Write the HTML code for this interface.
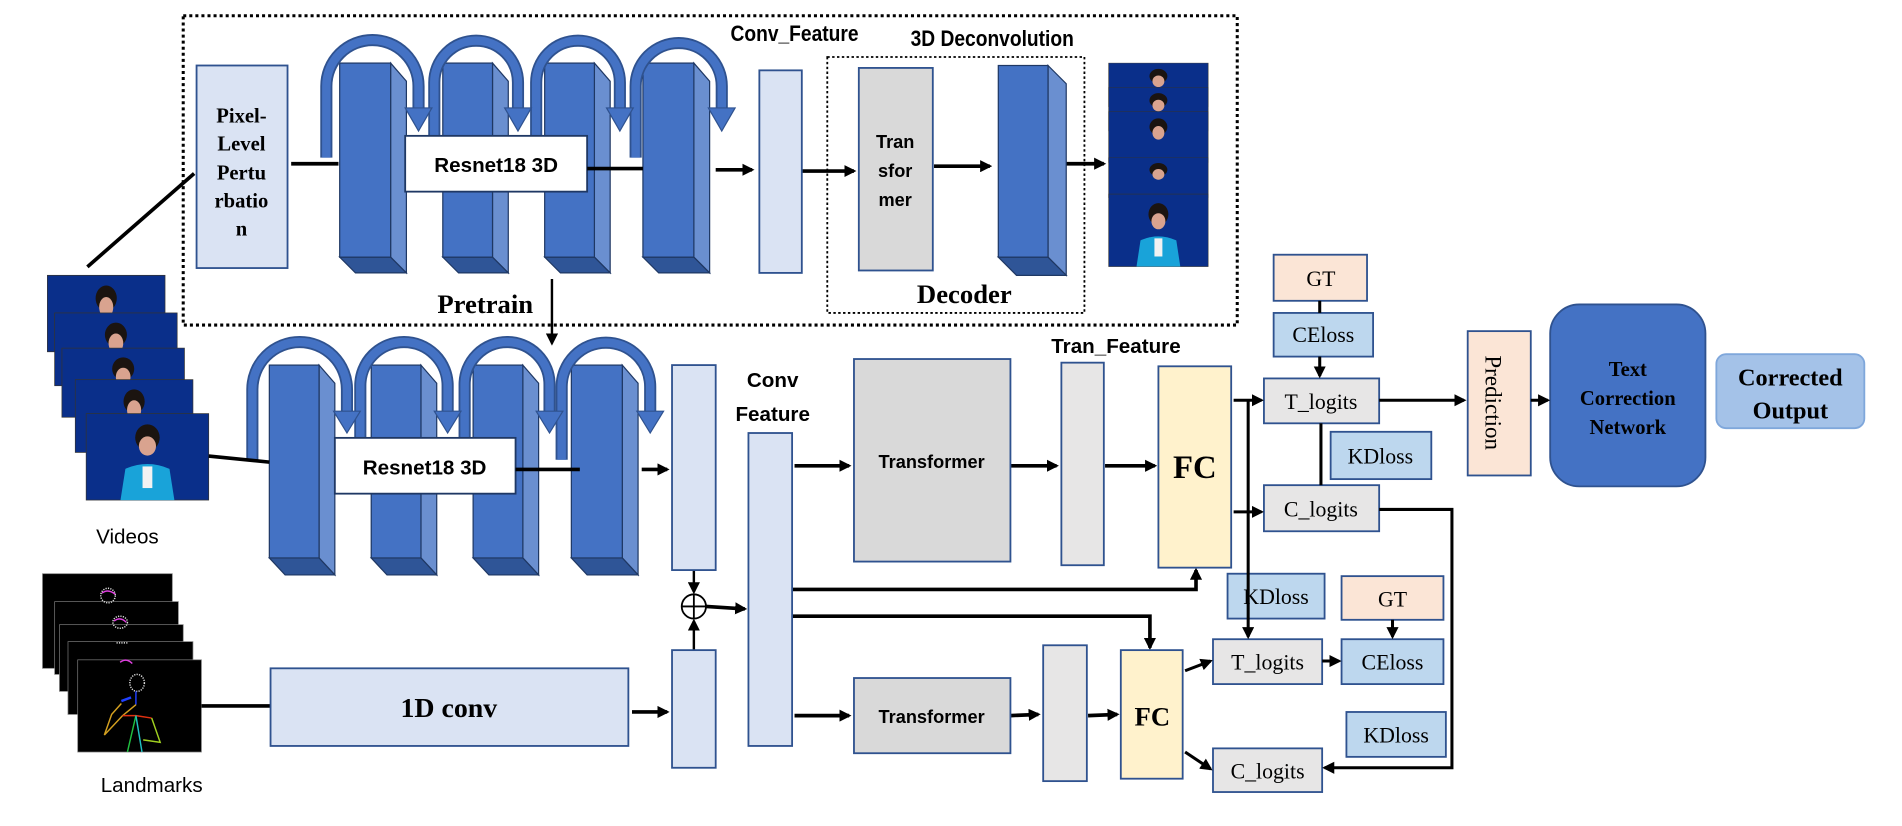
<!DOCTYPE html>
<html><head><meta charset="utf-8"><style>
html,body{margin:0;padding:0;background:#fff;}
svg{display:block;}
.sn{font-family:"Liberation Sans",sans-serif;}
.sf{font-family:"Liberation Serif",serif;}
</style></head><body>
<svg width="1902" height="826" viewBox="0 0 1568 681" xmlns="http://www.w3.org/2000/svg">
<defs>
<marker id="ah" markerWidth="10" markerHeight="10" refX="8" refY="5" orient="auto" markerUnits="userSpaceOnUse">
<path d="M0,0 L10,5 L0,10 Z" fill="#000"/></marker>
<g id="frame">
<rect x="0" y="0" width="100" height="72" fill="#0a2f8a" stroke="#333" stroke-width="0.6"/>
<ellipse cx="50" cy="20" rx="10" ry="11" fill="#1b1410"/>
<ellipse cx="50" cy="27" rx="7" ry="8" fill="#d9a38f"/>
<path d="M28 72 L32 46 Q50 38 68 46 L72 72 Z" fill="#19a3d9"/>
<rect x="46" y="44" width="8" height="18" fill="#f2f2f2"/>
</g>
<g id="frameS">
<rect x="0" y="0" width="100" height="60" fill="#0a2f8a" stroke="#333" stroke-width="0.6"/>
<ellipse cx="50" cy="18" rx="9" ry="10" fill="#1b1410"/>
<ellipse cx="50" cy="25" rx="6" ry="8" fill="#d9a38f"/>
</g>
</defs>

<rect x="151" y="13" width="869" height="255" fill="none" stroke="#000" stroke-width="2.5" stroke-dasharray="2.5,2.5"/>
<rect x="682" y="47" width="212" height="211" fill="none" stroke="#000" stroke-width="1.5" stroke-dasharray="2,2"/>

<rect x="162" y="54" width="75" height="167" fill="#dae3f3" stroke="#2f528f" stroke-width="1.5"/>
<g class="sf" font-weight="bold" font-size="17" text-anchor="middle">
<text x="199" y="101">Pixel-</text><text x="199" y="124">Level</text><text x="199" y="148">Pertu</text><text x="199" y="171">rbatio</text><text x="199" y="194">n</text>
</g>

<g stroke="#1f3864" stroke-width="1">
<g>
<polygon points="322,52 335,67 335,225 322,212" fill="#6a8fd0"/>
<polygon points="280,212 322,212 335,225 293,225" fill="#2f5597"/>
<rect x="280" y="52" width="42" height="160" fill="#4472c4"/>
</g>
<g>
<polygon points="406,52 419,67 419,225 406,212" fill="#6a8fd0"/>
<polygon points="365,212 406,212 419,225 378,225" fill="#2f5597"/>
<rect x="365" y="52" width="41" height="160" fill="#4472c4"/>
</g>
<g>
<polygon points="490,52 503,67 503,225 490,212" fill="#6a8fd0"/>
<polygon points="449,212 490,212 503,225 462,225" fill="#2f5597"/>
<rect x="449" y="52" width="41" height="160" fill="#4472c4"/>
</g>
<g>
<polygon points="572,52 585,67 585,225 572,212" fill="#6a8fd0"/>
<polygon points="530,212 572,212 585,225 543,225" fill="#2f5597"/>
<rect x="530" y="52" width="42" height="160" fill="#4472c4"/>
</g>
</g>
<g fill="none">
<path d="M269 130 L269 71 A38 38 0 0 1 345 71 L345 92" stroke="#2f528f" stroke-width="10"/>
<path d="M269 130 L269 71 A38 38 0 0 1 345 71 L345 92" stroke="#4472c4" stroke-width="7"/>
<path d="M358 130 L358 68 A34 34 0 0 1 427 68 L427 92" stroke="#2f528f" stroke-width="10"/>
<path d="M358 130 L358 68 A34 34 0 0 1 427 68 L427 92" stroke="#4472c4" stroke-width="7"/>
<path d="M442 130 L442 68 A34 34 0 0 1 511 68 L511 92" stroke="#2f528f" stroke-width="10"/>
<path d="M442 130 L442 68 A34 34 0 0 1 511 68 L511 92" stroke="#4472c4" stroke-width="7"/>
<path d="M524 130 L524 71 A35 35 0 0 1 595 71 L595 92" stroke="#2f528f" stroke-width="10"/>
<path d="M524 130 L524 71 A35 35 0 0 1 595 71 L595 92" stroke="#4472c4" stroke-width="7"/>
</g>
<g fill="#4472c4" stroke="#2f528f" stroke-width="1">
<polygon points="334,89 356,89 345,108"/><polygon points="416,89 438,89 427,108"/>
<polygon points="500,89 522,89 511,108"/><polygon points="584,89 606,89 595,108"/>
</g>
<rect x="334" y="112" width="150" height="46" fill="#fff" stroke="#1f3864" stroke-width="1.5"/>
<text x="409" y="142" class="sn" font-weight="bold" font-size="17" text-anchor="middle">Resnet18 3D</text>

<g stroke="#000" stroke-width="3">
<line x1="240" y1="135" x2="279" y2="135"/>
<line x1="484" y1="139" x2="530" y2="139"/>
<line x1="590" y1="140" x2="620" y2="140" marker-end="url(#ah)"/>
<line x1="661" y1="141" x2="704" y2="141" marker-end="url(#ah)"/>
<line x1="770" y1="137" x2="816" y2="137" marker-end="url(#ah)"/>
<line x1="875" y1="135" x2="910" y2="135" marker-end="url(#ah)"/>
</g>
<rect x="626" y="58" width="35" height="167" fill="#dae3f3" stroke="#2f528f" stroke-width="1.5"/>
<text x="655" y="34" class="sn" font-weight="bold" font-size="18" text-anchor="middle" transform="translate(655 0) scale(0.88 1) translate(-655 0)">Conv_Feature</text>
<text x="818" y="38" class="sn" font-weight="bold" font-size="18" text-anchor="middle" transform="translate(818 0) scale(0.88 1) translate(-818 0)">3D Deconvolution</text>
<rect x="708" y="56" width="61" height="167" fill="#d9d9d9" stroke="#2f528f" stroke-width="1.5"/>
<g class="sn" font-weight="bold" font-size="15" text-anchor="middle"><text x="738" y="122">Tran</text><text x="738" y="146">sfor</text><text x="738" y="170">mer</text></g>
<g stroke="#1f3864" stroke-width="1">
<polygon points="864,54 879,69 879,227 864,212" fill="#6a8fd0"/>
<polygon points="823,212 864,212 879,227 838,227" fill="#2f5597"/>
<rect x="823" y="54" width="41" height="158" fill="#4472c4"/>
</g>
<text x="795" y="250" class="sf" font-weight="bold" font-size="22" text-anchor="middle">Decoder</text>
<g>
<use href="#frameS" transform="translate(914,52) scale(0.82,0.6)"/>
<use href="#frameS" transform="translate(914,72) scale(0.82,0.6)"/>
<use href="#frameS" transform="translate(914,92) scale(0.82,0.7)"/>
<use href="#frameS" transform="translate(914,130) scale(0.82,0.55)"/>
<use href="#frame" transform="translate(914,160) scale(0.82,0.83)"/>
</g>

<text x="400" y="258" class="sf" font-weight="bold" font-size="22" text-anchor="middle">Pretrain</text>
<line x1="455" y1="230" x2="455" y2="283" stroke="#000" stroke-width="2" marker-end="url(#ah)"/>
<line x1="160" y1="143" x2="72" y2="220" stroke="#000" stroke-width="3"/>

<use href="#frameS" transform="translate(39,227) scale(0.97,1.05)"/>
<use href="#frameS" transform="translate(45,258) scale(1.01,1.0)"/>
<use href="#frameS" transform="translate(51,287) scale(1.01,0.95)"/>
<use href="#frameS" transform="translate(62,313) scale(0.97,1.0)"/>
<use href="#frame" transform="translate(71,341) scale(1.01,0.99)"/>
<text x="105" y="448" class="sn" font-size="17" text-anchor="middle">Videos</text>

<g fill="#000" stroke="#777" stroke-width="0.6">
<rect x="35" y="473" width="107" height="78"/>
<rect x="45" y="496" width="102" height="60"/>
<rect x="49" y="515" width="102" height="55"/>
<rect x="56" y="529" width="103" height="60"/>
<rect x="64" y="544" width="102" height="76"/>
</g>
<g fill="none" stroke-width="1.2">
<ellipse cx="89" cy="491" rx="6" ry="6" stroke="#ddd" stroke-dasharray="1,1"/>
<path d="M84 489 Q89 485 95 490" stroke="#e040e0"/>
<ellipse cx="99" cy="513" rx="6" ry="5" stroke="#ddd" stroke-dasharray="1,1"/>
<path d="M94 512 Q99 508 104 513" stroke="#e040e0"/>
<path d="M96 530 L106 530" stroke="#ddd" stroke-dasharray="1,1"/>
<path d="M99 546 Q104 542 109 547" stroke="#e040e0"/>
<ellipse cx="113" cy="563" rx="6" ry="7" stroke="#ddd" stroke-dasharray="1,1"/>
<path d="M112 570 L112 581" stroke="#2040ff"/>
<path d="M100 580 L92 589 L86 606 L101 590 L112 581" stroke="#d4a020"/>
<path d="M101 590 L112 590 L125 592" stroke="#e03010"/>
<path d="M125 592 L132 612 L118 610" stroke="#a0d020"/>
<path d="M112 590 L105 620" stroke="#20c040"/>
<path d="M112 590 L117 620" stroke="#20c0c0"/>
<path d="M100 578 L108 575" stroke="#2040ff" stroke-width="2"/>
</g>
<text x="125" y="653" class="sn" font-size="17" text-anchor="middle">Landmarks</text>

<g stroke="#1f3864" stroke-width="1">
<g><polygon points="263,301 276,316 276,474 263,460" fill="#6a8fd0"/><polygon points="222,460 263,460 276,474 235,474" fill="#2f5597"/><rect x="222" y="301" width="41" height="159" fill="#4472c4"/></g>
<g><polygon points="347,301 360,316 360,474 347,460" fill="#6a8fd0"/><polygon points="306,460 347,460 360,474 319,474" fill="#2f5597"/><rect x="306" y="301" width="41" height="159" fill="#4472c4"/></g>
<g><polygon points="431,301 444,316 444,474 431,460" fill="#6a8fd0"/><polygon points="390,460 431,460 444,474 403,474" fill="#2f5597"/><rect x="390" y="301" width="41" height="159" fill="#4472c4"/></g>
<g><polygon points="513,301 526,316 526,474 513,460" fill="#6a8fd0"/><polygon points="471,460 513,460 526,474 484,474" fill="#2f5597"/><rect x="471" y="301" width="42" height="159" fill="#4472c4"/></g>
</g>
<g fill="none">
<path d="M208 379 L208 321 A39 39 0 0 1 286 321 L286 342" stroke="#2f528f" stroke-width="10"/>
<path d="M208 379 L208 321 A39 39 0 0 1 286 321 L286 342" stroke="#4472c4" stroke-width="7"/>
<path d="M297 379 L297 318 A36 36 0 0 1 369 318 L369 342" stroke="#2f528f" stroke-width="10"/>
<path d="M297 379 L297 318 A36 36 0 0 1 369 318 L369 342" stroke="#4472c4" stroke-width="7"/>
<path d="M383 379 L383 317 A35 35 0 0 1 453 317 L453 342" stroke="#2f528f" stroke-width="10"/>
<path d="M383 379 L383 317 A35 35 0 0 1 453 317 L453 342" stroke="#4472c4" stroke-width="7"/>
<path d="M463 379 L463 319 A36 36 0 0 1 536 319 L536 342" stroke="#2f528f" stroke-width="10"/>
<path d="M463 379 L463 319 A36 36 0 0 1 536 319 L536 342" stroke="#4472c4" stroke-width="7"/>
</g>
<g fill="#4472c4" stroke="#2f528f" stroke-width="1">
<polygon points="275,339 297,339 286,357"/><polygon points="358,339 380,339 369,357"/>
<polygon points="442,339 464,339 453,357"/><polygon points="525,339 547,339 536,357"/>
</g>
<rect x="276" y="361" width="149" height="46" fill="#fff" stroke="#1f3864" stroke-width="1.5"/>
<text x="350" y="391" class="sn" font-weight="bold" font-size="17" text-anchor="middle">Resnet18 3D</text>

<g stroke="#000" stroke-width="3" fill="none">
<line x1="172" y1="376" x2="222" y2="381"/>
<line x1="425" y1="387" x2="478" y2="387"/>
<line x1="529" y1="387" x2="550" y2="387" marker-end="url(#ah)"/>
<line x1="166" y1="582" x2="223" y2="582"/>
<line x1="521" y1="587" x2="550" y2="587" marker-end="url(#ah)"/>
<line x1="655" y1="384" x2="700" y2="384" marker-end="url(#ah)"/>
<line x1="833" y1="384" x2="871" y2="384" marker-end="url(#ah)"/>
<line x1="911" y1="384" x2="952" y2="384" marker-end="url(#ah)"/>
<line x1="655" y1="590" x2="700" y2="590" marker-end="url(#ah)"/>
<line x1="833" y1="590" x2="856" y2="589" marker-end="url(#ah)"/>
<line x1="897" y1="590" x2="921" y2="589" marker-end="url(#ah)"/>
<line x1="582" y1="500" x2="614" y2="502" marker-end="url(#ah)"/>
</g>
<g stroke="#000" stroke-width="2" fill="none">
<line x1="572" y1="470" x2="572" y2="488" marker-end="url(#ah)"/>
<line x1="572" y1="536" x2="572" y2="512" marker-end="url(#ah)"/>
<polyline points="653,486 986,486 986,470" marker-end="url(#ah)" stroke-width="3"/>
<polyline points="653,508 948,508 948,534" marker-end="url(#ah)" stroke-width="3"/>
</g>
<circle cx="572" cy="500" r="10" fill="#fff" stroke="#000" stroke-width="1.5"/>
<line x1="562" y1="500" x2="582" y2="500" stroke="#000" stroke-width="1.5"/>
<line x1="572" y1="490" x2="572" y2="510" stroke="#000" stroke-width="1.5"/>

<g stroke="#2f528f" stroke-width="1.5">
<rect x="554" y="301" width="36" height="169" fill="#dae3f3"/>
<rect x="554" y="536" width="36" height="97" fill="#dae3f3"/>
<rect x="617" y="357" width="36" height="258" fill="#dae3f3"/>
<rect x="223" y="551" width="295" height="64" fill="#dae3f3"/>
<rect x="704" y="296" width="129" height="167" fill="#d9d9d9"/>
<rect x="875" y="299" width="35" height="167" fill="#e7e6e6"/>
<rect x="955" y="302" width="60" height="166" fill="#fff2cc"/>
<rect x="704" y="559" width="129" height="62" fill="#d9d9d9"/>
<rect x="860" y="532" width="36" height="112" fill="#e7e6e6"/>
<rect x="924" y="536" width="51" height="106" fill="#fff2cc"/>
</g>
<g class="sn" font-weight="bold" text-anchor="middle" font-size="17">
<text x="637" y="319">Conv</text><text x="637" y="347">Feature</text>
<text x="920" y="291">Tran_Feature</text>
<text x="768" y="386" font-size="15">Transformer</text>
<text x="768" y="596" font-size="15">Transformer</text>
</g>
<g class="sf" font-weight="bold" text-anchor="middle">
<text x="985" y="394" font-size="27">FC</text>
<text x="950" y="598" font-size="22">FC</text>
<text x="370" y="591" font-size="23">1D conv</text>
</g>

<g stroke="#2f528f" stroke-width="1.5">
<rect x="1050" y="210" width="77" height="38" fill="#fbe5d6"/>
<rect x="1050" y="258" width="82" height="36" fill="#bdd7ee"/>
<rect x="1042" y="312" width="95" height="37" fill="#e7e6e6"/>
<rect x="1097" y="356" width="83" height="39" fill="#bdd7ee"/>
<rect x="1042" y="400" width="95" height="38" fill="#e7e6e6"/>
<rect x="1012" y="473" width="80" height="37" fill="#bdd7ee"/>
<rect x="1106" y="475" width="84" height="36" fill="#fbe5d6"/>
<rect x="1000" y="527" width="90" height="37" fill="#e7e6e6"/>
<rect x="1106" y="527" width="84" height="37" fill="#bdd7ee"/>
<rect x="1110" y="587" width="82" height="37" fill="#bdd7ee"/>
<rect x="1000" y="617" width="90" height="36" fill="#e7e6e6"/>
<rect x="1210" y="273" width="52" height="119" fill="#fbe5d6"/>
<rect x="1278" y="251" width="128" height="150" rx="24" fill="#4472c4" stroke="#2f528f"/>
<rect x="1415" y="292" width="122" height="61" rx="8" fill="#a4c2e8" stroke="#7fa7db"/>
</g>
<g class="sf" font-size="18" text-anchor="middle">
<text x="1089" y="236">GT</text>
<text x="1091" y="282">CEloss</text>
<text x="1089" y="337">T_logits</text>
<text x="1138" y="382">KDloss</text>
<text x="1089" y="426">C_logits</text>
<text x="1052" y="498">KDloss</text>
<text x="1148" y="500">GT</text>
<text x="1045" y="552">T_logits</text>
<text x="1148" y="552">CEloss</text>
<text x="1151" y="612">KDloss</text>
<text x="1045" y="642">C_logits</text>
<text x="0" y="0" font-size="19" transform="translate(1229,332) rotate(90)" dominant-baseline="middle">Prediction</text>
</g>
<g class="sf" font-weight="bold" text-anchor="middle">
<text x="1342" y="310" font-size="17">Text</text>
<text x="1342" y="334" font-size="17">Correction</text>
<text x="1342" y="358" font-size="17">Network</text>
<text x="1476" y="318" font-size="20">Corrected</text>
<text x="1476" y="345" font-size="20">Output</text>
</g>
<g stroke="#000" stroke-width="2.5" fill="none">
<line x1="1088" y1="248" x2="1088" y2="258"/>
<line x1="1088" y1="294" x2="1088" y2="310" marker-end="url(#ah)"/>
<line x1="1089" y1="349" x2="1089" y2="400"/>
<line x1="1017" y1="330" x2="1040" y2="330" marker-end="url(#ah)"/>
<line x1="1017" y1="422" x2="1040" y2="422" marker-end="url(#ah)"/>
<line x1="1029" y1="330" x2="1029" y2="525" marker-end="url(#ah)"/>
<line x1="1137" y1="330" x2="1207" y2="330" marker-end="url(#ah)"/>
<line x1="1262" y1="330" x2="1276" y2="330" marker-end="url(#ah)"/>
<polyline points="1137,420 1197,420 1197,633 1092,633" marker-end="url(#ah)"/>
<line x1="977" y1="553" x2="998" y2="545" marker-end="url(#ah)"/>
<line x1="977" y1="620" x2="998" y2="634" marker-end="url(#ah)"/>
<line x1="1090" y1="545" x2="1104" y2="545" marker-end="url(#ah)"/>
<line x1="1148" y1="511" x2="1148" y2="525" marker-end="url(#ah)"/>
</g>
</svg>
</body></html>
